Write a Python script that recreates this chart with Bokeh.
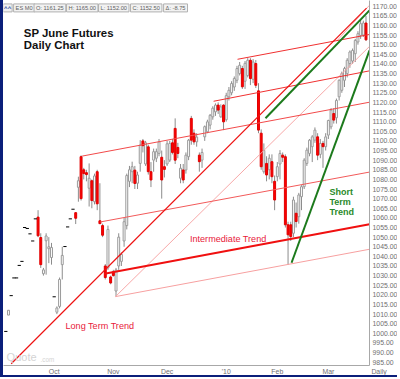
from bokeh.plotting import figure
from bokeh.models import Range1d, FixedTicker, NumeralTickFormatter, Label, ColumnDataSource
from bokeh.embed import file_html
from bokeh.resources import INLINE

FONT = "Liberation Sans"

# ES M0 daily bars, trading-day index 0 = 2009-09-04 ... 134 = 2010-03-19
opens = [
    # Sep
    1001, 1009.5, 1019.6, 1028.8, 1028.8, 1035.3, 1037.4, 1055, 1054.5, 1051.7, 1048, 1059.5, 1060.4, 1049.8, 1031, 1048.1, 1044, 1039.4,
    # Oct
    1019, 1011, 1014, 1035.7, 1045.1, 1055.3, 1059.5, 1064.5, 1062.7, 1075.9, 1091.8, 1085, 1083.5, 1075.4, 1079.3, 1068.4, 1084, 1058.5, 1056, 1035, 1034, 1029.3,
    # Nov
    1032, 1022, 1035, 1037.4, 1048, 1056, 1079, 1084, 1084.8, 1078, 1088.3, 1100, 1088, 1096.9, 1084, 1090, 1091, 1093.5, 1091.5, 1086.6,
    # Dec
    1088, 1090, 1099, 1106.5, 1096.6, 1080.6, 1084.9, 1084.9, 1091.8, 1111.7, 1104, 1099.5, 1092.6, 1090, 1102.1, 1104.7, 1108.2, 1112.5, 1115.1, 1118.6, 1112.5, 1118.6,
    # Jan
    1111, 1122.9, 1125, 1128, 1131.5, 1135, 1137.6, 1131, 1134, 1141.9, 1132, 1140.2, 1126, 1104, 1084, 1088.3, 1085, 1089.2, 1079,
    # Feb
    1081.4, 1088, 1092.6, 1091.8, 1056.4, 1056.4, 1052, 1062.4, 1060.6, 1071, 1076.2, 1088.3, 1093.5, 1097, 1100.4, 1102.1, 1093, 1098.7, 1097,
    # Mar
    1103, 1107.3, 1114.2, 1112, 1122.9, 1126.3, 1131.5, 1135, 1140.2, 1141.5, 1145.3, 1151.4, 1154.8, 1155, 1161.25,
]
highs = [
    1001, 1012, 1019.6, 1028.8, 1028.8, 1035.3, 1037.4, 1055, 1054.5, 1051.7, 1048, 1059.5, 1064, 1052, 1034, 1052, 1050, 1047,
    1019, 1014, 1029, 1045, 1045.1, 1055.3, 1059.5, 1064.5, 1063, 1081.4, 1092.5, 1086, 1085, 1088.3, 1080, 1083, 1085, 1078, 1057, 1036, 1056, 1030,
    1033, 1034, 1052, 1042, 1060, 1083, 1087, 1089.2, 1087, 1084, 1100.4, 1101, 1100, 1098, 1089, 1096, 1096, 1101, 1095, 1090,
    1100, 1100, 1101, 1111.7, 1099, 1088, 1088, 1094, 1101, 1113, 1106, 1104, 1094, 1096, 1108, 1111, 1114, 1118, 1119.5, 1120, 1119, 1119,
    1125, 1128, 1131, 1133.5, 1139, 1141, 1139, 1141.5, 1143, 1143, 1142.5, 1142, 1130, 1106, 1098.7, 1092, 1093, 1093, 1082,
    1089, 1095.2, 1094, 1093, 1058, 1058, 1071, 1068, 1073, 1077, 1091, 1096.5, 1101, 1103, 1107, 1104, 1101, 1100, 1104,
    1111, 1117, 1117, 1122, 1132, 1136, 1138.5, 1143, 1147, 1148, 1153, 1157, 1163, 1162.5, 1165,
]
lows = [
    1001, 1009.5, 1019.6, 1028.8, 1028.8, 1035.3, 1037.4, 1055, 1054.5, 1051.7, 1048, 1059.5, 1050, 1034, 1030, 1030.5, 1036.5, 1035.7,
    1019, 1010, 1013, 1028, 1045.1, 1055.3, 1059.5, 1064.5, 1056.8, 1068.4, 1069, 1080, 1079, 1065.9, 1065, 1067, 1064, 1057, 1050, 1028, 1033, 1025.5,
    1029.5, 1019.2, 1033, 1035, 1045, 1054, 1076, 1078, 1075, 1075, 1084, 1094, 1087, 1082.5, 1076, 1084, 1089, 1092, 1070, 1081,
    1087, 1089, 1093, 1088, 1091, 1078, 1078, 1083, 1090, 1098, 1098, 1097, 1084, 1086, 1100, 1104, 1106, 1111, 1113, 1114, 1112, 1105.6,
    1110, 1121, 1123.7, 1126, 1130, 1134, 1127, 1127, 1133, 1129, 1130, 1127.5, 1104, 1085, 1083, 1079, 1080, 1078, 1064,
    1079, 1080, 1089, 1055, 1035.6, 1048, 1050, 1055, 1057, 1064, 1075, 1087, 1092, 1089, 1099, 1090, 1091, 1086, 1095,
    1101, 1106, 1109, 1109, 1121, 1125, 1128, 1133, 1138, 1140, 1141, 1150, 1153, 1154, 1152,
]
closes = [
    1001, 1012, 1019.6, 1028.8, 1028.8, 1035.3, 1037.4, 1055, 1054.5, 1051.7, 1048, 1059.5, 1050.7, 1035.7, 1033, 1050.6, 1045, 1044.6,
    1019, 1013.2, 1028, 1040.5, 1045.1, 1055.3, 1059.5, 1064.5, 1059.8, 1079.3, 1070, 1083, 1082.5, 1080.6, 1069, 1081.8, 1067.3, 1057, 1051, 1029, 1054, 1026.2,
    1030, 1033, 1050, 1041, 1058, 1082, 1085, 1086.6, 1077.9, 1082.3, 1097.8, 1097.5, 1099, 1084, 1079.7, 1094.4, 1094.4, 1099.5, 1079.7, 1085.2,
    1098.5, 1098.7, 1094, 1090, 1093.5, 1085.8, 1079.7, 1092.6, 1100.4, 1100.4, 1099.5, 1102, 1089.2, 1094, 1107.4, 1109.9, 1113.3, 1117, 1118.6, 1116, 1117.7, 1109.9,
    1123.5, 1126.3, 1129.8, 1132.4, 1137.6, 1139.3, 1128.1, 1140.3, 1141.9, 1132.4, 1141, 1128.9, 1105.6, 1086.6, 1095, 1082.3, 1091, 1081.4, 1069.3,
    1086.6, 1093.5, 1091.5, 1056.4, 1051.2, 1050.3, 1069.3, 1058.1, 1071.9, 1076.2, 1090, 1095.2, 1100.4, 1102.1, 1105.6, 1092.6, 1098.7, 1097, 1102.1,
    1110.6, 1116, 1110.8, 1121, 1131.5, 1135, 1137.6, 1141.9, 1146.2, 1147, 1152.2, 1155.7, 1160.9, 1161.25, 1152.5,
]

month_ticks = [18, 40, 60, 82, 101, 120]
month_labels = ["Oct", "Nov", "Dec", "'10", "Feb", "Mar"]
period_label = "Daily"
price_ticks = list(range(985, 1175, 5))

# trend lines: [start index, start price, end index, end price]
long_term_trend = [2.0, 984.2, 134.2, 1169.0]
long_term_parallel = [40.8, 1019.1, 135.3, 1149.1]
top_pink = [123.3, 1152.2, 135.3, 1170.5]
medium_green = [96.6, 1111.8, 135.3, 1167.8]
short_term_trend = [106.3, 1036.7, 135.3, 1147.0]
intermediate_trend = [36.7, 1031.0, 135.3, 1056.7]
channel_low = [40.8, 1019.1, 135.3, 1043.7]
channel_1 = [35.2, 1057.9, 135.3, 1083.8]
channel_2 = [28.4, 1092.1, 135.3, 1120.1]
channel_3 = [77.3, 1120.6, 135.3, 1136.4]
channel_4 = [86.2, 1142.4, 135.3, 1155.3]

n = len(closes)
assert len(opens) == n and len(highs) == n and len(lows) == n
idx = list(range(n))


def subset(sel):
    return ColumnDataSource(dict(
        x=sel,
        top=[max(opens[i], closes[i]) for i in sel],
        bottom=[min(opens[i], closes[i]) for i in sel],
        hi=[highs[i] for i in sel],
        lo=[lows[i] for i in sel],
        c=[closes[i] for i in sel],
        x0=[i - 0.6 for i in sel],
        x1=[i + 0.6 for i in sel],
    ))


flat = [highs[i] == lows[i] for i in idx]
up_src = subset([i for i in idx if not flat[i] and closes[i] >= opens[i]])
dn_src = subset([i for i in idx if not flat[i] and closes[i] < opens[i]])
flat_src = subset([i for i in idx if flat[i]])

x_start, x_end = -0.86, 135.3
y_start, y_end = 983.3, 1172.95

p = figure(width=397, height=377, x_range=Range1d(x_start, x_end), y_range=Range1d(y_start, y_end),
           y_axis_location="right", output_backend="svg", toolbar_location=None,
           min_border_left=0, min_border_right=31, min_border_top=0, min_border_bottom=11)
p.styles = {"border-left": "3px solid #0b1f7a", "border-bottom": "2px solid #0b1f7a"}
p.xgrid.visible = False
p.ygrid.visible = False
p.outline_line_color = None
p.background_fill_color = "white"
p.border_fill_color = "white"

for ax in (p.xaxis[0], p.yaxis[0]):
    ax.major_label_text_font = FONT
    ax.major_label_text_font_size = "6.9px"
    ax.major_label_text_color = "#707070"
    ax.axis_line_color = "#a8a8a8"
    ax.major_tick_line_color = None
    ax.minor_tick_line_color = None
    ax.major_tick_in = 0
    ax.major_tick_out = 0
p.yaxis[0].ticker = FixedTicker(ticks=price_ticks)
p.yaxis[0].formatter = NumeralTickFormatter(format="0.00")
p.yaxis[0].major_label_standoff = 3

# month ticks plus the period caption under the price scale (tick at the right edge,
# shifted right with non-breaking spaces so it sits under the price labels)
end_tick = x_end - 0.01
p.xaxis[0].ticker = FixedTicker(ticks=month_ticks + [end_tick])
overrides = {t: l for t, l in zip(month_ticks, month_labels)}
overrides[end_tick] = "\u00a0" * 10 + period_label
p.xaxis[0].major_label_overrides = overrides
p.xaxis[0].major_label_standoff = 2

# candles
for src in (up_src, dn_src):
    p.segment(x0="x", y0="lo", x1="x", y1="hi", source=src, line_color="#8c8c8c", line_width=1)
p.vbar(x="x", width=0.72, top="top", bottom="bottom", source=up_src,
       fill_color="white", line_color="#9a9a9a", line_width=1)
p.vbar(x="x", width=0.72, top="top", bottom="bottom", source=dn_src,
       fill_color="#ff0000", line_color="#e00000", line_width=1)
p.segment(x0="x0", y0="c", x1="x1", y1="c", source=flat_src, line_color="black", line_width=1)


def tline(seg, color, width):
    p.segment(x0=[seg[0]], y0=[seg[1]], x1=[seg[2]], y1=[seg[3]], line_color=color, line_width=width)


tline(channel_low, "#f7a0a0", 1)
tline(long_term_parallel, "#f7a8a8", 1)
tline(top_pink, "#f7a8a8", 1)
tline(channel_1, "#f25a5a", 1)
tline(channel_2, "#f24a4a", 1)
tline(channel_3, "#f03030", 1)
tline(channel_4, "#f03030", 1)
tline(long_term_trend, "#ee1111", 1.2)
tline(intermediate_trend, "#f01010", 2)
tline(medium_green, "#1c7a1c", 2)
tline(short_term_trend, "#1c7a1c", 2)

# texts
red_txt = "#e8203a"
green_txt = "#2a8a2a"
p.add_layout(Label(x=6.7, y=1156.1, text="SP June Futures", text_font=FONT, text_font_size="11.4px",
                   text_font_style="bold", text_baseline="middle", text_color="#111111"))
p.add_layout(Label(x=6.7, y=1149.6, text="Daily Chart", text_font=FONT, text_font_size="11.4px",
                   text_font_style="bold", text_baseline="middle", text_color="#111111"))
p.add_layout(Label(x=68.5, y=1049.2, text="Intermediate Trend", text_font=FONT, text_font_size="9.1px",
                   text_baseline="middle", text_color=red_txt))
p.add_layout(Label(x=22.2, y=1003.7, text="Long Term Trend", text_font=FONT, text_font_size="9.1px",
                   text_baseline="middle", text_color=red_txt))
for t, yy in zip(["Short", "Term", "Trend"], [1073.7, 1068.5, 1063.3]):
    p.add_layout(Label(x=120.4, y=yy, text=t, text_font=FONT, text_font_size="9px",
                       text_font_style="bold", text_baseline="middle", text_color=green_txt))

# watermark
p.add_layout(Label(x=0.3, y=987.6, text="Quote", text_font=FONT, text_font_size="11px",
                   text_baseline="middle", text_color="#d4d4d4"))
p.add_layout(Label(x=12.9, y=986.6, text=".com", text_font=FONT, text_font_size="6.3px",
                   text_baseline="middle", text_color="#d4d4d4"))

# info bar
info_texts = ["ES M0", f"O: {opens[-1]:.2f}", f"H: {highs[-1]:.2f}", f"L: {lows[-1]:.2f}",
              f"C: {closes[-1]:.2f}", f"\u0394: {closes[-1] - closes[-2]:.2f}"]
info_x = [2.9, 10.5, 22.6, 34.5, 46.4, 58.7]
p.add_layout(Label(x=-1.0, y=1169.1, text="^^", text_font=FONT, text_font_size="6px", text_font_style="bold",
                   text_baseline="middle", text_color="#2a4aa0", background_fill_color="#f0f0f0",
                   border_line_color="#b0b0b0", padding=1))
for t, xx in zip(info_texts, info_x):
    p.add_layout(Label(x=xx, y=1169.1, text=t, text_font=FONT, text_font_size="5.7px",
                       text_baseline="middle", text_color="#606060", background_fill_color="#f2f2f2",
                       border_line_color="#b0b0b0", padding=(2, 1)))

# last price tag
p.add_layout(Label(x=x_end, y=closes[-1], x_offset=1, text=f"{closes[-1]:.2f}", text_font=FONT,
                   text_font_size="6.9px", text_baseline="middle", text_color="white",
                   background_fill_color="#ff0000", padding=(2, 1)))

open("out.html", "w").write(file_html(p, INLINE))
